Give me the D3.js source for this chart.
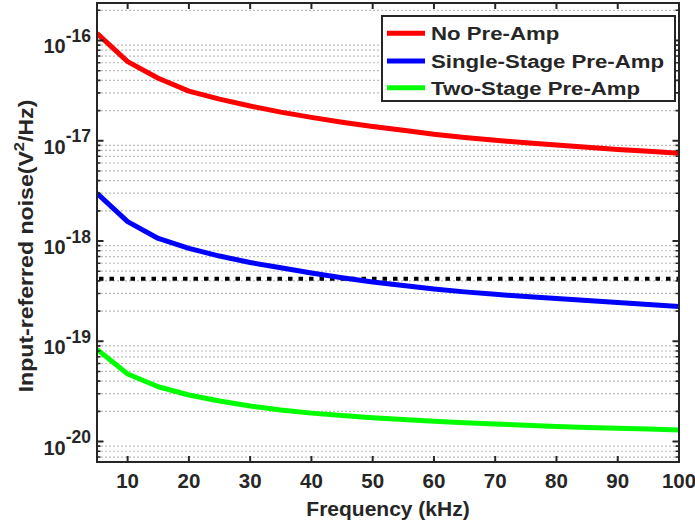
<!DOCTYPE html>
<html><head><meta charset="utf-8">
<script src="https://cdn.jsdelivr.net/npm/d3@7"></script>
<style>
html,body{margin:0;padding:0;background:#fff;}
svg{display:block;}
text{font-family:"Liberation Sans",Arial,Helvetica,sans-serif;font-weight:bold;fill:#262626;}
</style></head>
<body>
<svg id="chart" width="695" height="527"></svg>
<script>
// ---- data ----
const freq = [5,10,15,20,25,30,35,40,45,50,55,60,65,70,75,80,85,90,95,100];
const noPreAmp = [1.18e-16,6.15e-17,4.2e-17,3.13e-17,2.6e-17,2.22e-17,1.93e-17,1.71e-17,1.53e-17,1.39e-17,1.27e-17,1.16e-17,1.08e-17,1.01e-17,9.55e-18,9.05e-18,8.6e-18,8.2e-18,7.85e-18,7.5e-18];
const singleStage = [2.99e-18,1.56e-18,1.06e-18,8.45e-19,7.08e-19,6.1e-19,5.42e-19,4.8e-19,4.3e-19,3.9e-19,3.6e-19,3.33e-19,3.11e-19,2.94e-19,2.79e-19,2.67e-19,2.55e-19,2.44e-19,2.33e-19,2.22e-19];
const twoStage = [8.31e-20,4.71e-20,3.52e-20,2.91e-20,2.54e-20,2.26e-20,2.06e-20,1.92e-20,1.82e-20,1.73e-20,1.66e-20,1.59e-20,1.54e-20,1.5e-20,1.45e-20,1.41e-20,1.38e-20,1.36e-20,1.33e-20,1.3e-20];
const thresholdLevel = [4.2e-19];
const seriesNames = ["No Pre-Amp","Single-Stage Pre-Amp","Two-Stage Pre-Amp"];
const seriesColors = ["#ff0000","#0000ff","#00ff00"];
const xTicks = [10,20,30,40,50,60,70,80,90,100];
const yTickExps = [-20,-19,-18,-17,-16];
const xDomain = [5,100];
const yDomain = [6.25e-21,2.366e-16];

// ---- layout ----
const L=97,R=679,T=3,B=462;
const svg=d3.select("#chart");
const x=d3.scaleLinear().domain(xDomain).range([L,R]);
const y=d3.scaleLog().domain(yDomain).range([B,T]);

svg.append("defs").append("clipPath").attr("id","clip")
  .append("rect").attr("x",L).attr("y",T).attr("width",R-L).attr("height",B-T);

// minor grid
const minorVals=[];
for(let k=-21;k<=-16;k++){for(let m=2;m<=9;m++){const v=m*Math.pow(10,k);if(v>=yDomain[0]&&v<=yDomain[1])minorVals.push(v);}}
svg.append("g").selectAll("line").data(minorVals).join("line")
  .attr("x1",L).attr("x2",R).attr("y1",d=>y(d)).attr("y2",d=>y(d))
  .attr("stroke","#bdbdbd").attr("stroke-width",1.2).attr("stroke-dasharray","2,2");

// threshold
svg.append("g").attr("clip-path","url(#clip)").selectAll("line").data(thresholdLevel).join("line")
  .attr("x1",L+2).attr("x2",R).attr("y1",d=>y(d)).attr("y2",d=>y(d))
  .attr("stroke","#000").attr("stroke-width",4).attr("stroke-dasharray","4.5,6");

// curves
const series=[noPreAmp,singleStage,twoStage];
const line=d3.line().x((d,i)=>x(freq[i])).y(d=>y(d));
svg.append("g").attr("clip-path","url(#clip)").selectAll("path").data(series).join("path")
  .attr("d",d=>line(d)).attr("fill","none").attr("stroke",(d,i)=>seriesColors[i])
  .attr("stroke-width",5).attr("stroke-linejoin","round");

// axes box
const ax=svg.append("g");
ax.append("rect").attr("x",L).attr("y",T).attr("width",R-L).attr("height",B-T)
  .attr("fill","none").attr("stroke","#262626").attr("stroke-width",2);
ax.append("g").selectAll("path").data(xTicks).join("path")
  .attr("d",d=>`M${x(d)},${B}v-6M${x(d)},${T}v6`).attr("stroke","#262626").attr("stroke-width",2);
const majorVals=yTickExps.map(e=>Math.pow(10,e));
ax.append("g").selectAll("path").data(majorVals).join("path")
  .attr("d",d=>`M${L},${y(d)}h6.5M${R},${y(d)}h-6.5`).attr("stroke","#262626").attr("stroke-width",2);
ax.append("g").selectAll("path").data(minorVals).join("path")
  .attr("d",d=>`M${L},${y(d)}h3.5M${R},${y(d)}h-3.5`).attr("stroke","#262626").attr("stroke-width",1.6);

// x tick labels
svg.append("g").selectAll("text").data(xTicks).join("text")
  .attr("x",d=>x(d)).attr("y",488).attr("text-anchor","middle").attr("font-size",20.5).text(d=>d);
// y tick labels
const yl=svg.append("g").selectAll("text").data(yTickExps).join("text")
  .attr("x",91).attr("y",d=>y(Math.pow(10,d))+13).attr("text-anchor","end").attr("font-size",20);
yl.append("tspan").text("10");
yl.append("tspan").attr("dy",-11.5).attr("font-size",17.5).text(d=>String(d));

// axis labels
svg.append("text").attr("x",388).attr("y",516).attr("text-anchor","middle").attr("font-size",21)
  .text("Frequency (kHz)");
const ylab=svg.append("text").attr("transform",`translate(32.5,246) rotate(-90) scale(1.1,1)`)
  .attr("text-anchor","middle").attr("font-size",21);
ylab.append("tspan").text("Input-referred noise(V");
ylab.append("tspan").attr("dy",-9).attr("font-size",15).text("2");
ylab.append("tspan").attr("dy",9).text("/Hz)");

// legend
const lg=svg.append("g");
lg.append("rect").attr("x",382).attr("y",16).attr("width",293).attr("height",85)
  .attr("fill","#fff").attr("stroke","#262626").attr("stroke-width",2);
const rows=[33.3,61,87.7];
lg.selectAll("line").data(seriesNames).join("line")
  .attr("x1",387).attr("x2",425).attr("y1",(d,i)=>rows[i]).attr("y2",(d,i)=>rows[i])
  .attr("stroke",(d,i)=>seriesColors[i]).attr("stroke-width",5);
lg.selectAll("text").data(seriesNames).join("text")
  .attr("transform",(d,i)=>`translate(431,${rows[i]+6.8}) scale(1.2,1)`)
  .attr("font-size",18.5).attr("fill","#000").text(d=>d);
</script>
</body></html>
